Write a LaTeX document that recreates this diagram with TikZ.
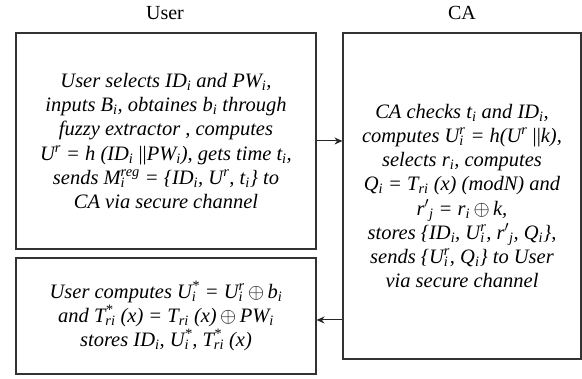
\documentclass[tikz,border=0pt]{standalone}
\usepackage{fontspec}
\setmainfont{Liberation Serif}
\usetikzlibrary{arrows.meta}
\newcommand\sbx[1]{\textsubscript{#1}}
\newcommand\ssx[2]{\ooalign{\textsuperscript{#1}\cr\textsubscript{#2}}}
\newcommand\xo{\,$\oplus$\,}
\newcommand\dbar{{\upshape ||}}
\begin{document}
\begin{tikzpicture}[x=1pt,y=1pt,
  box/.style={draw=black!80, line width=1.1pt, inner sep=0pt, align=center,
    font=\itshape\fontsize{20.5}{24.2}\selectfont},
  title/.style={font=\fontsize{20}{22}\selectfont},
  conn/.style={draw=black!85, line width=1pt, -{Stealth[length=8pt,width=7pt]}}]
\useasboundingbox (0,0) rectangle (582,379);
\node[title] (tu) at (165,366) {User};
\node[title] (tc) at (462,366) {CA};
\node[box, minimum width=300pt, minimum height=216pt] (b1) at (166,238) {%
User selects ID\sbx{i} and PW\sbx{i},\\
inputs B\sbx{i}, obtaines b\sbx{i} through\\
fuzzy extractor , computes\\
U\textsuperscript{r} = h (ID\sbx{i} \dbar PW\sbx{i}), gets time t\sbx{i},\\
sends M\ssx{reg}{i} = \{ID\sbx{i}, U\textsuperscript{r}, t\sbx{i}\} to\\
CA via secure channel};
\node[box, minimum width=238pt, minimum height=326pt] (ca) at (462,183) {%
CA checks t\sbx{i} and ID\sbx{i},\\
computes U\ssx{r}{i} = h(U\textsuperscript{r} \dbar k),\\
selects r\sbx{i}, computes\\
Q\sbx{i} = T\sbx{ri} (x) (modN) and\\
r$'$\sbx{j} = r\sbx{i}\xo k,\\
stores \{ID\sbx{i}, U\ssx{r}{i}, r$'$\sbx{j}, Q\sbx{i}\},\\
sends \{U\ssx{r}{i}, Q\sbx{i}\} to User\\
via secure channel};
\node[box, minimum width=300pt, minimum height=116pt] (b2) at (166,63) {%
User computes U\ssx{*}{i} = U\ssx{r}{i}\xo b\sbx{i}\\
and T\ssx{*}{ri} (x) = T\sbx{ri} (x)\xo PW\sbx{i}\\
stores ID\sbx{i}, U\ssx{*}{i}, T\ssx{*}{ri} (x)};
\coordinate (a2) at (330,59);
\draw[conn] (b1.east) -- (b1.east -| ca.west);
\draw[conn] (a2 -| ca.west) -- (a2 -| b2.east);
\end{tikzpicture}
\end{document}
